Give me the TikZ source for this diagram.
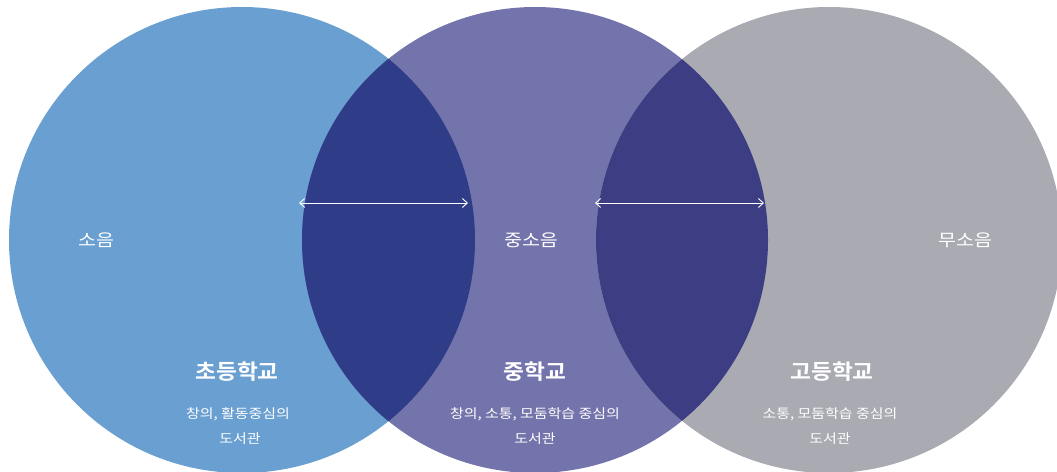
\documentclass[tikz,border=0pt]{standalone}
\usepackage{fontspec}
\setmainfont{Noto Sans CJK KR}
\newfontfamily\krlbl{Noto Sans CJK KR}[FakeStretch=1.15]
\newfontfamily\krttl{Noto Sans CJK KR Bold}[FakeStretch=1.08]
\newfontfamily\krsub{Noto Sans CJK KR}[FakeStretch=1.15]
\usetikzlibrary{arrows.meta}
\definecolor{cleft}{HTML}{6A9FD2}
\definecolor{cmid}{HTML}{7474AC}
\definecolor{cright}{HTML}{A9AAB2}
\definecolor{olap1}{HTML}{2F3D88}
\definecolor{olap2}{HTML}{3C3D82}
\tikzset{
  lbl/.style={text=white, font=\krlbl\fontsize{17}{20}\selectfont, inner sep=0pt},
  ttl/.style={text=white, font=\krttl\fontsize{21}{24}\selectfont, inner sep=0pt},
  sub/.style={text=white, font=\krsub\fontsize{13}{15}\selectfont, inner sep=0pt},
  arr/.style={white, line width=0.9pt, {Straight Barb[length=5pt,width=9pt]}-{Straight Barb[length=5pt,width=9pt]}}
}
\begin{document}
\begin{tikzpicture}[x=1pt,y=-1pt]
\useasboundingbox (0,0) rectangle (1057,471);
\begin{scope}
\clip (0,0) rectangle (1057,471);
\fill[cleft] (242,240) circle (233);
\fill[cmid] (535,240) circle (233);
\fill[cright] (829,240) circle (233);
\begin{scope}
\clip (242,240) circle (233);
\fill[olap1] (535,240) circle (233);
\end{scope}
\begin{scope}
\clip (829,240) circle (233);
\fill[olap2] (535,240) circle (233);
\end{scope}
\end{scope}
\coordinate (a1) at (299,203);
\coordinate (a2) at (468,203);
\coordinate (b1) at (595,203);
\coordinate (b2) at (764,203);
\draw[arr] (a1) -- (a2);
\draw[arr] (b1) -- (b2);
\node[lbl] (n1) at (96,240) {소음};
\node[lbl] (n2) at (531,240) {중소음};
\node[lbl] (n3) at (965,240) {무소음};
\node[ttl] (t1) at (237,372) {초등학교};
\node[ttl] (t2) at (535,372) {중학교};
\node[ttl] (t3) at (832,372) {고등학교};
\node[sub] (s1) at (238,414) {창의, 활동중심의};
\node[sub] (s2) at (535,414) {창의, 소통, 모둠학습 중심의};
\node[sub] (s3) at (830,414) {소통, 모둠학습 중심의};
\node[sub] (d1) at (240,439) {도서관};
\node[sub] (d2) at (535,439) {도서관};
\node[sub] (d3) at (830,439) {도서관};
\end{tikzpicture}
\end{document}
